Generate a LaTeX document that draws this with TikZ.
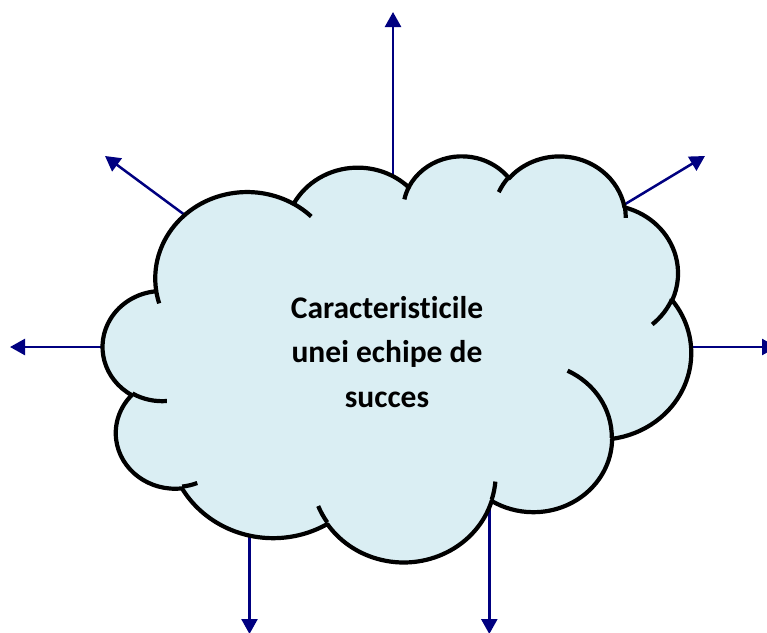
\documentclass[tikz,border=0pt]{standalone}
\usepackage{fontspec}
\setmainfont[Ligatures={NoCommon}]{Carlito}
\usetikzlibrary{arrows.meta}
\definecolor{cloudfill}{HTML}{DAEEF3}
\definecolor{arrowblue}{HTML}{000080}
% elliptical arc given OOXML-style visual start angle and sweep (degrees)
\newcommand\carc[4]{arc[x radius=#1, y radius=#2,
  start angle={atan2((#1)*sin(#3),(#2)*cos(#3))},
  delta angle={mod(atan2((#1)*sin((#3)+(#4)),(#2)*cos((#3)+(#4)))-atan2((#1)*sin(#3),(#2)*cos(#3))+720,360)}]}
\tikzset{
  arr/.style={draw=arrowblue, line width=2.5pt, -{Triangle[length=15pt,width=16pt]}},
  cloudline/.style={draw=black, line width=4.2pt, line join=round},
  cloudtext/.style={font=\fontsize{31.5}{44.5}\selectfont\bfseries, align=center, text=black}
}
\begin{document}
\begin{tikzpicture}[x=1pt,y=-1pt]
\useasboundingbox (0,0) rectangle (767,632);
\fill[white] (0,0) rectangle (767,632);
\clip (0,0) rectangle (767,632);
% arrow end points
\coordinate (sTop) at (393,195);  \coordinate (tTop) at (393,12);
\coordinate (sUL) at (197,224);   \coordinate (tUL) at (105,156);
\coordinate (sUR) at (612,212);   \coordinate (tUR) at (705,156);
\coordinate (sL) at (120,347);    \coordinate (tL) at (10,347);
\coordinate (sR) at (675,347);    \coordinate (tR) at (777,347);
\coordinate (sBL) at (249.5,520); \coordinate (tBL) at (249.5,634);
\coordinate (sBR) at (489.3,500); \coordinate (tBR) at (489.3,634);
\draw[arr] (sTop) -- (tTop);
\draw[arr] (sUL) -- (tUL);
\draw[arr] (sUR) -- (tUR);
\draw[arr] (sL) -- (tL);
\draw[arr] (sR) -- (tR);
\draw[arr] (sBL) -- (tBL);
\draw[arr] (sBR) -- (tBR);
% cloud (frame 43200 units scaled /100)
\begin{scope}[shift={(103,155)}, x={(1.36111pt,0pt)}, y={(0pt,-0.93981pt)}]
\draw[cloudline, fill=cloudfill] (39.00,143.70)
  \carc{67.53}{91.90}{-190.4875}{123.7805}
  \carc{53.33}{72.67}{-144.1024}{89.9452}
  \carc{43.65}{59.45}{-145.8079}{99.7230}
  \carc{48.57}{65.95}{-130.9861}{117.2417}
  \carc{53.33}{72.73}{-78.7089}{109.0269}
  \carc{67.75}{92.20}{-46.2673}{130.2690}
  \carc{57.85}{78.67}{0.6250}{114.0333}
  \carc{67.52}{92.15}{22.4516}{115.1726}
  \carc{77.20}{105.43}{66.2426}{75.7110}
  \carc{43.60}{59.18}{-274.9421}{146.7356}
  \carc{43.45}{59.45}{-246.8285}{152.5189}
  -- cycle;
\draw[cloudline]
  (46.93,261.77) \carc{43.45}{59.45}{86.7420}{26.4295}
  (69.28,348.99) \carc{43.60}{59.18}{73.6105}{11.4475}
  (164.78,390.90) \carc{67.52}{92.15}{137.6242}{14.0811}
  (288.27,347.51) \carc{67.52}{92.15}{6.4533}{15.9984}
  (341.29,229.54) \carc{57.85}{78.67}{-70.2924}{70.9174}
  (417.98,153.54) \carc{53.33}{72.73}{30.3180}{27.7515}
  (383.24,54.26) \carc{48.57}{65.95}{-13.7443}{14.8589}
  (290.78,39.52) \carc{48.57}{65.95}{-149.1815}{18.1954}
  (221.41,47.20) \carc{43.65}{59.45}{-163.4943}{17.6864}
  (140.00,51.92) \carc{67.53}{91.90}{-66.7070}{12.3194}
  (41.27,157.89) \carc{67.53}{91.90}{157.6544}{11.8582};
\end{scope}
\node[cloudtext] (label) at (387,352) {Caracteristicile\\unei echipe de\\succes};
\end{tikzpicture}
\end{document}
